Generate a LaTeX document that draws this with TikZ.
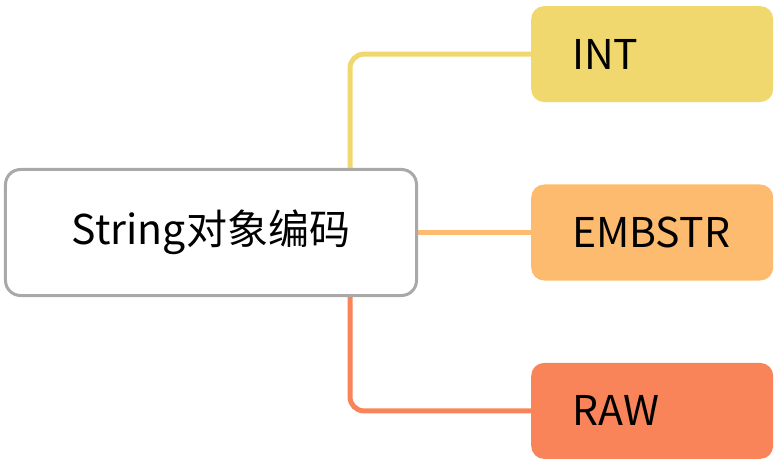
\documentclass[tikz,border=0pt]{standalone}
\usepackage{fontspec}
\setmainfont{Noto Sans CJK SC}
\usepackage{tikz}
\usetikzlibrary{positioning,backgrounds}
\definecolor{intcol}{HTML}{F0D86E}
\definecolor{embcol}{HTML}{FDBB70}
\definecolor{rawcol}{HTML}{F98459}
\definecolor{rootline}{HTML}{A9A9A9}

\begin{document}
\begin{tikzpicture}[
  x=1pt, y=1pt,
  node distance=82pt and 113pt,
  every node/.style={font=\fontsize{41}{48}\selectfont},
  rootbox/.style={rectangle, rounded corners=15pt, draw=rootline, line width=3pt,
    fill=white, minimum width=411pt, minimum height=126pt, align=center},
  leaf/.style={rectangle, rounded corners=13pt, inner xsep=41pt, text width=160pt,
    minimum height=96pt, align=left},
  link/.style={line width=5pt, rounded corners=14pt},
]
\useasboundingbox (-211,-230.5) rectangle (573,232.5);

% Root
\node[rootbox] (root) {String对象编码};

% Encodings
\node[leaf, fill=embcol, right=113pt of root] (embstr) {EMBSTR};
\node[leaf, fill=intcol, above=82pt of embstr] (int) {INT};
\node[leaf, fill=rawcol, below=82pt of embstr] (raw) {RAW};

% Links
\begin{scope}[on background layer]
\draw[link, intcol] ([xshift=-68pt]root.north east) |- (int.west);
\draw[link, embcol] (root.east) -- (embstr.west);
\draw[link, rawcol] ([xshift=-68pt]root.south east) |- (raw.west);
\end{scope}
\end{tikzpicture}
\end{document}
